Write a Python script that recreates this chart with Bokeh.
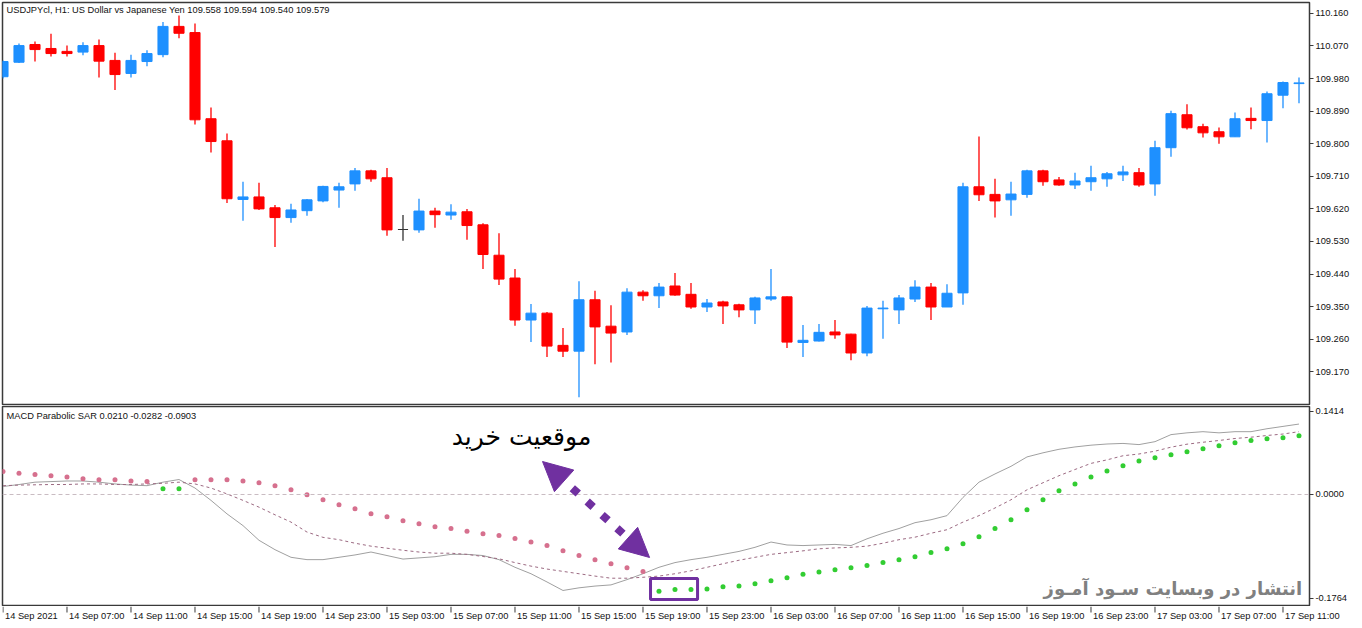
from bokeh.plotting import figure
from bokeh.layouts import column, row
from bokeh.models import (Range1d, FixedTicker, PrintfTickFormatter, Label, Span,
                          Arrow, NormalHead, BoxAnnotation, ColumnDataSource)
from bokeh.core.properties import value
from bokeh.embed import file_html
from bokeh.resources import INLINE

# ---------------- data ----------------
opens = [109.985, 110.025, 110.074, 110.063, 110.055, 110.053, 110.071, 110.030, 109.994, 110.027,
         110.046, 110.124, 110.107, 109.869, 109.808, 109.646, 109.653, 109.623, 109.596, 109.615,
         109.642, 109.672, 109.689, 109.725, 109.706, 109.563, 109.562, 109.614, 109.603, 109.612,
         109.576, 109.492, 109.429, 109.313, 109.332, 109.243, 109.227, 109.369, 109.296, 109.280,
         109.390, 109.380, 109.407, 109.384, 109.349, 109.363, 109.355, 109.341, 109.371, 109.377,
         109.251, 109.255, 109.280, 109.274, 109.222, 109.344, 109.341, 109.371, 109.404, 109.349,
         109.388, 109.681, 109.660, 109.645, 109.660, 109.725, 109.700, 109.686, 109.695, 109.703,
         109.714, 109.720, 109.689, 109.789, 109.880, 109.847, 109.833, 109.819, 109.870, 109.864,
         109.934, 109.966]
highs = [110.030, 110.077, 110.082, 110.104, 110.071, 110.080, 110.088, 110.051, 110.046, 110.058,
         110.136, 110.154, 110.132, 109.900, 109.828, 109.695, 109.692, 109.631, 109.634, 109.647,
         109.684, 109.692, 109.733, 109.728, 109.733, 109.603, 109.648, 109.623, 109.633, 109.620,
         109.580, 109.553, 109.454, 109.357, 109.335, 109.291, 109.420, 109.394, 109.354, 109.401,
         109.395, 109.415, 109.443, 109.415, 109.371, 109.366, 109.358, 109.377, 109.454, 109.378,
         109.299, 109.302, 109.313, 109.275, 109.352, 109.366, 109.382, 109.423, 109.415, 109.412,
         109.692, 109.820, 109.703, 109.695, 109.728, 109.728, 109.708, 109.720, 109.739, 109.722,
         109.739, 109.733, 109.808, 109.891, 109.909, 109.855, 109.845, 109.886, 109.900, 109.944,
         109.972, 109.983]
lows = [109.980, 110.023, 110.027, 110.041, 110.041, 110.044, 109.983, 109.948, 109.983, 110.014,
        110.039, 110.091, 109.853, 109.776, 109.636, 109.587, 109.617, 109.515, 109.582, 109.601,
        109.638, 109.623, 109.670, 109.695, 109.546, 109.532, 109.554, 109.568, 109.590, 109.535,
        109.454, 109.410, 109.297, 109.252, 109.211, 109.211, 109.100, 109.191, 109.196, 109.272,
        109.366, 109.346, 109.380, 109.344, 109.335, 109.302, 109.321, 109.302, 109.366, 109.236,
        109.211, 109.254, 109.261, 109.202, 109.213, 109.261, 109.302, 109.363, 109.313, 109.349,
        109.355, 109.642, 109.596, 109.601, 109.651, 109.684, 109.684, 109.675, 109.670, 109.681,
        109.697, 109.681, 109.656, 109.764, 109.839, 109.817, 109.800, 109.819, 109.840, 109.803,
        109.898, 109.912]
closes = [110.027, 110.071, 110.060, 110.049, 110.049, 110.071, 110.028, 109.991, 110.030, 110.049,
          110.124, 110.105, 109.866, 109.806, 109.648, 109.653, 109.620, 109.596, 109.617, 109.645,
          109.682, 109.681, 109.725, 109.703, 109.562, 109.563, 109.614, 109.604, 109.611, 109.574,
          109.494, 109.426, 109.313, 109.332, 109.241, 109.227, 109.369, 109.294, 109.277, 109.390,
          109.380, 109.404, 109.382, 109.349, 109.360, 109.352, 109.341, 109.374, 109.377, 109.252,
          109.257, 109.279, 109.272, 109.222, 109.346, 109.346, 109.374, 109.404, 109.349, 109.387,
          109.681, 109.659, 109.642, 109.661, 109.725, 109.695, 109.686, 109.697, 109.706, 109.717,
          109.722, 109.686, 109.789, 109.883, 109.844, 109.830, 109.819, 109.869, 109.864, 109.938,
          109.969, 109.968]

macd = [0.0136, 0.017, 0.021, 0.022, 0.023, 0.023, 0.021, 0.018, 0.016, 0.015,
        0.021, 0.0255, 0.011, -0.010, -0.033, -0.053, -0.078, -0.094, -0.107, -0.111,
        -0.111, -0.107, -0.103, -0.098, -0.104, -0.110, -0.108, -0.106, -0.102, -0.102,
        -0.104, -0.111, -0.124, -0.135, -0.149, -0.1635, -0.159, -0.156, -0.154, -0.145,
        -0.135, -0.124, -0.116, -0.111, -0.107, -0.102, -0.097, -0.090, -0.081, -0.086,
        -0.087, -0.086, -0.085, -0.087, -0.0755, -0.066, -0.058, -0.048, -0.043, -0.036,
        -0.005, 0.021, 0.035, 0.048, 0.064, 0.071, 0.077, 0.081, 0.084, 0.086,
        0.087, 0.085, 0.090, 0.102, 0.105, 0.107, 0.105, 0.107, 0.107, 0.112,
        0.116, 0.120]
signal = [0.015, 0.016, 0.0165, 0.017, 0.017, 0.018, 0.018, 0.017, 0.017, 0.018,
          0.019, 0.021, 0.018, 0.011, 0.001, -0.010, -0.0216, -0.0346, -0.047, -0.064,
          -0.073, -0.077, -0.083, -0.088, -0.0915, -0.095, -0.098, -0.100, -0.100, -0.102,
          -0.1056, -0.1096, -0.116, -0.122, -0.127, -0.131, -0.135, -0.139, -0.1426, -0.1426,
          -0.141, -0.139, -0.135, -0.130, -0.124, -0.118, -0.112, -0.107, -0.102, -0.099,
          -0.096, -0.0925, -0.091, -0.090, -0.088, -0.083, -0.077, -0.0727, -0.066, -0.060,
          -0.047, -0.036, -0.023, -0.009, 0.008, 0.020, 0.032, 0.0426, 0.053, 0.059,
          0.066, 0.069, 0.0738, 0.0806, 0.0857, 0.089, 0.092, 0.0954, 0.0976, 0.1005,
          0.103, 0.107]
sar = [0.039, 0.036, 0.034, 0.032, 0.030, 0.027, 0.025, 0.025, 0.023, 0.022,
       0.0097, 0.0097, 0.025, 0.025, 0.025, 0.023, 0.020, 0.015, 0.008, -0.0006,
       -0.009, -0.0176, -0.0244, -0.033, -0.038, -0.0448, -0.050, -0.055, -0.058, -0.0625,
       -0.067, -0.070, -0.075, -0.081, -0.087, -0.096, -0.104, -0.111, -0.118, -0.125,
       -0.131, -0.165, -0.162, -0.162, -0.161, -0.157, -0.156, -0.152, -0.147, -0.142,
       -0.136, -0.132, -0.128, -0.125, -0.121, -0.116, -0.111, -0.106, -0.099, -0.0925,
       -0.084, -0.072, -0.058, -0.043, -0.026, -0.009, 0.0063, 0.018, 0.030, 0.040,
       0.049, 0.057, 0.0625, 0.0676, 0.0727, 0.078, 0.083, 0.088, 0.092, 0.095,
       0.0966, 0.100]

price_ticks = [109.170, 109.260, 109.350, 109.440, 109.530, 109.620, 109.710,
               109.800, 109.890, 109.980, 110.070, 110.160]
ind_ticks = [-0.1764, 0.0, 0.1414]
time_tick_pos = list(range(0, 81, 4))
time_tick_labels = ["14 Sep 2021", "14 Sep 07:00", "14 Sep 11:00", "14 Sep 15:00", "14 Sep 19:00",
                    "14 Sep 23:00", "15 Sep 03:00", "15 Sep 07:00", "15 Sep 11:00", "15 Sep 15:00",
                    "15 Sep 19:00", "15 Sep 23:00", "16 Sep 03:00", "16 Sep 07:00", "16 Sep 11:00",
                    "16 Sep 15:00", "16 Sep 19:00", "16 Sep 23:00", "17 Sep 03:00", "17 Sep 07:00",
                    "17 Sep 11:00"]

title_text = "USDJPYcl, H1:  US Dollar vs Japanese Yen  109.558 109.594 109.540 109.579"
ind_title = "MACD Parabolic SAR 0.0210 -0.0282 -0.0903"
buy_text = "موقعیت خرید"
watermark = "انتشار در وبسایت  سـود آمـوز"

# ---------------- styles ----------------
UP = "#1E90FF"
DOWN = "#FF0000"
DOJI = "#333333"
PINK = "#D6708E"
GREEN = "#32CD32"
PURPLE = "#7030A0"
FONT = "Liberation Sans"
FRAME = "#3a3a3a"
PX_PER_BAR = 16.0

idx = list(range(len(opens)))
colors = [UP if c > o else (DOWN if c < o else DOJI) for o, c in zip(opens, closes)]
src = ColumnDataSource(dict(
    x=idx, h=highs, l=lows,
    top=[max(o, c) for o, c in zip(opens, closes)],
    bottom=[min(o, c) for o, c in zip(opens, closes)],
    color=colors))

x0 = -0.031
x_range = Range1d(x0, x0 + 1307 / PX_PER_BAR)

def style(p):
    p.grid.visible = False
    p.outline_line_color = FRAME
    p.outline_line_width = 1.5
    p.background_fill_color = "white"
    p.border_fill_color = "white"
    ax = p.yaxis[0]
    ax.major_tick_out = 4
    ax.major_tick_in = 0
    ax.minor_tick_line_color = None
    ax.major_label_standoff = 2
    ax.axis_line_color = FRAME
    ax.major_tick_line_color = FRAME
    ax.major_label_text_font = FONT
    ax.major_label_text_font_size = "9.3px"
    ax.major_label_text_color = "#111111"

# ---------------- main price panel ----------------
p1 = figure(width=1362, height=405, x_range=x_range, y_range=Range1d(109.0797, 110.190),
            output_backend="svg", toolbar_location=None, x_axis_location=None,
            y_axis_location="right", min_border_left=2, min_border_top=2,
            min_border_bottom=1, min_border_right=53)
style(p1)
p1.yaxis.ticker = FixedTicker(ticks=price_ticks)
p1.yaxis.formatter = PrintfTickFormatter(format="%.3f")

p1.segment(x0="x", y0="h", x1="x", y1="l", line_color="color", line_width=1.3, source=src)
p1.vbar(x="x", width=0.63, top="top", bottom="bottom", fill_color="color",
        line_color="color", line_width=1, source=src)

p1.add_layout(Label(x=4, y=395, x_units="screen", y_units="screen", text=title_text,
                    text_font=FONT, text_font_size="9.3px", text_baseline="middle",
                    text_color="#111111"))

# ---------------- indicator panel ----------------
p2 = figure(width=1362, height=201, x_range=x_range, y_range=Range1d(-0.1908, 0.1499),
            output_backend="svg", toolbar_location=None, x_axis_location=None,
            y_axis_location="right", min_border_left=2, min_border_top=1,
            min_border_bottom=0, min_border_right=53)
style(p2)
p2.yaxis.ticker = FixedTicker(ticks=ind_ticks)
p2.yaxis.formatter = PrintfTickFormatter(format="%.4f")

p2.add_layout(Span(location=0, dimension="width", line_color="#c9bcc2",
                   line_dash="4 3", line_width=1))
p2.line(idx, macd, line_color="#a0a0a0", line_width=1)
p2.line(idx, signal, line_color="#9c6a82", line_width=1, line_dash="3 3")
sar_colors = [PINK if s > m else GREEN for s, m in zip(sar, macd)]
p2.scatter(idx, sar, size=5, fill_color=sar_colors, line_color=None)

p2.add_layout(Label(x=4, y=191, x_units="screen", y_units="screen", text=ind_title,
                    text_font=FONT, text_font_size="9.3px", text_baseline="middle",
                    text_color="#111111"))

# annotations
p2.add_layout(Arrow(start=NormalHead(size=29, fill_color=PURPLE, line_color=PURPLE),
                    end=NormalHead(size=29, fill_color=PURPLE, line_color=PURPLE),
                    x_start=33.72, y_start=0.0562, x_end=40.41, y_end=-0.1073,
                    line_color=PURPLE, line_width=8, line_dash="8 12"))
p2.add_layout(BoxAnnotation(left=40.47, right=43.41, top=-0.1431, bottom=-0.1789,
                            fill_color=None, line_color=PURPLE, line_alpha=1.0, line_width=3))
p2.add_layout(Label(x=519, y=170, x_units="screen", y_units="screen", text=buy_text,
                    text_font="DejaVu Sans", text_font_size="25px", text_align="center",
                    text_baseline="middle", text_color="#000000"))
p2.add_layout(Label(x=1306, y=18, x_units="screen", y_units="screen", text=watermark,
                    text_font="DejaVu Sans", text_font_size="18px", text_font_style="bold",
                    text_align="right", text_baseline="middle", text_color="#808080"))

# ---------------- time scale strip (MT5 style left-aligned labels) ----------------
p3 = figure(width=1362, height=22, x_range=Range1d(x0, x0 + 1360 / PX_PER_BAR),
            y_range=Range1d(22, 0), output_backend="svg", toolbar_location=None,
            x_axis_location=None, y_axis_location=None, min_border_left=2,
            min_border_top=0, min_border_bottom=0, min_border_right=0)
p3.grid.visible = False
p3.outline_line_color = None
p3.background_fill_color = "white"
p3.border_fill_color = "white"
tsrc = ColumnDataSource(dict(x=time_tick_pos, text=time_tick_labels,
                             y0=[0] * len(time_tick_pos), y1=[6] * len(time_tick_pos),
                             ty=[9] * len(time_tick_pos)))
p3.segment(x0="x", y0="y0", x1="x", y1="y1", line_color=FRAME, line_width=1, source=tsrc)
p3.text(x="x", y="ty", text="text", x_offset=2, text_align="left", text_baseline="middle",
        text_font=value(FONT), text_font_size=value("9.3px"), text_color="#111111", source=tsrc)

layout = column(column(p1, p2, spacing=0), row(p3, spacing=0), spacing=0)
open("out.html", "w").write(file_html(layout, INLINE))
